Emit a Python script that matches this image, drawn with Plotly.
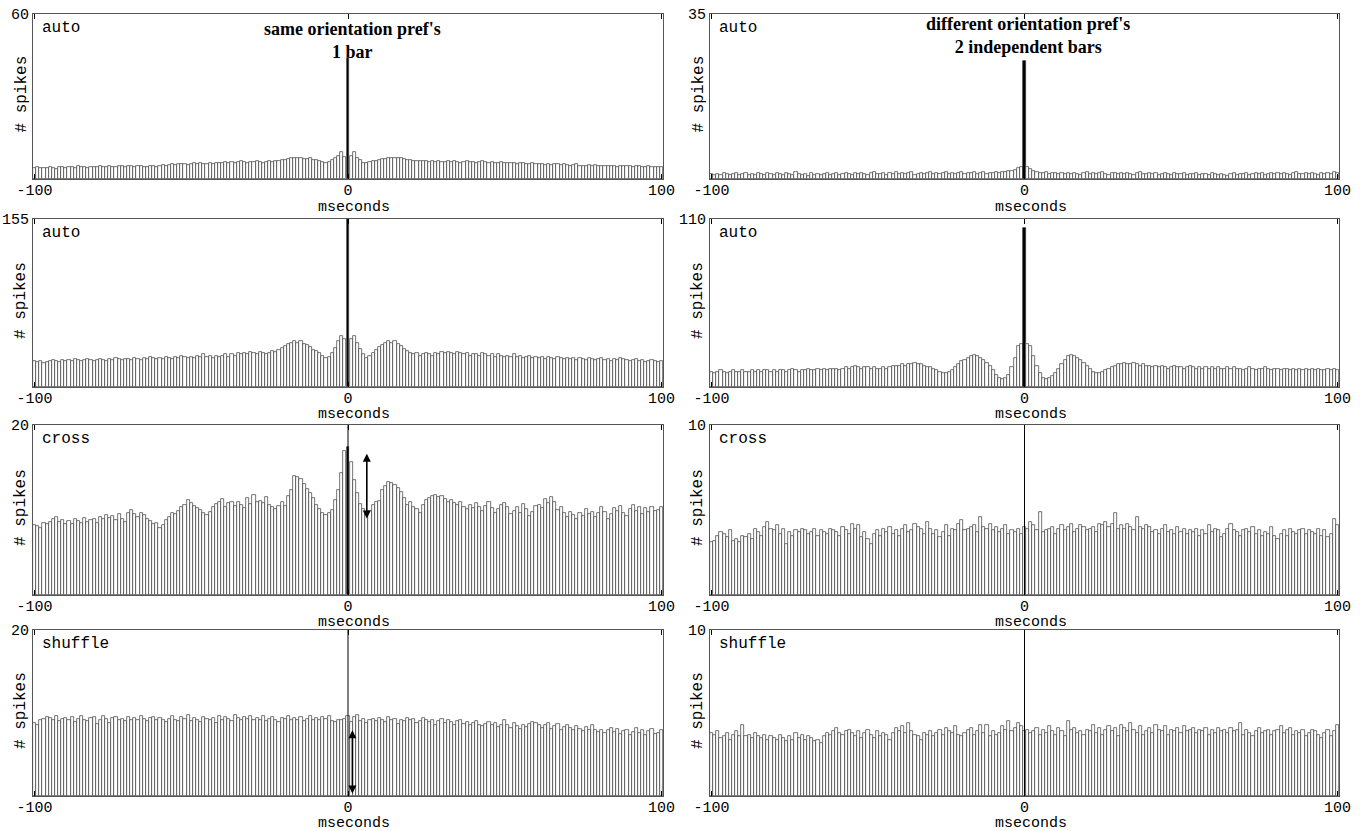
import plotly.graph_objects as go

W, H = 1371, 831
lag_ms = list(range(-100, 101))
x_ticks = [-100, 0, 100]

# ---- row 1: autocorrelograms (cell 1) ----
auto1_same = [
    4.0, 4.2, 3.9, 4.1, 4.0, 4.3, 4.1, 3.8, 4.2, 4.4,
    4.1, 4.5, 4.3, 4.0, 4.6, 4.2, 4.4, 4.1, 4.3, 4.5,
    4.2, 4.6, 4.4, 4.3, 4.7, 4.5, 4.4, 4.8, 4.6, 4.4,
    4.9, 4.7, 4.5, 4.8, 4.6, 4.4, 4.3, 4.6, 4.8, 4.5,
    4.7, 5.0, 4.8, 5.2, 5.4, 5.1, 5.5, 5.3, 5.6, 5.2,
    5.4, 5.7, 5.5, 5.8, 5.3, 5.6, 5.9, 5.5, 5.7, 6.0,
    5.8, 6.2, 6.0, 6.3, 5.9, 6.1, 6.4, 6.2, 6.0, 6.3,
    6.1, 6.4, 6.2, 6.0, 6.3, 6.5, 6.2, 6.6, 6.4, 6.8,
    7.0, 7.3, 7.6, 7.8, 7.5, 7.7, 7.4, 7.2, 7.5, 7.0,
    6.8, 6.5, 6.3, 6.0, 6.2, 7.0, 7.5, 8.2, 9.8, 8.0,
    44.0,
    8.2, 9.9, 7.6, 6.8, 6.0, 5.8, 6.1, 6.4, 6.7, 7.0,
    7.2, 7.4, 7.6, 7.5, 7.8, 7.7, 7.6, 7.3, 7.0, 6.8,
    6.7, 6.5, 6.6, 6.4, 6.5, 6.3, 6.5, 6.2, 6.4, 6.3,
    6.1, 6.4, 6.2, 6.5, 6.3, 6.0, 6.2, 6.4, 6.1, 6.3,
    6.0, 6.2, 6.4, 6.1, 5.9, 6.2, 6.0, 5.8, 6.1, 5.9,
    5.7, 6.0, 5.8, 5.5, 5.7, 5.9, 5.6, 5.4, 5.7, 5.5,
    5.3, 5.6, 5.2, 5.4, 5.0, 5.3, 5.5, 5.1, 5.4, 5.2,
    4.9, 5.1, 5.3, 4.9, 4.7, 4.9, 5.1, 4.8, 5.0, 4.7,
    4.8, 4.9, 4.6, 4.8, 4.6, 4.5, 4.8, 4.9, 4.6, 4.7,
    4.4, 4.6, 4.7, 4.3, 4.5, 4.6, 4.3, 4.5, 4.2, 4.4,
]
auto1_diff = [
    1.0, 0.8, 1.1, 0.9, 1.2, 1.0, 0.8, 1.1, 1.3, 0.9,
    1.0, 1.2, 0.8, 1.1, 0.9, 1.3, 1.0, 0.8, 1.2, 1.1,
    0.9, 1.3, 1.0, 0.8, 1.2, 1.1, 0.9, 1.4, 1.0, 0.8,
    1.1, 0.7, 1.2, 0.9, 1.0, 0.8, 1.1, 1.3, 0.9, 1.0,
    1.2, 0.9, 1.1, 1.3, 1.0, 0.8, 1.2, 1.0, 1.3, 1.1,
    0.9, 1.2, 1.4, 1.0, 1.1, 1.3, 0.9, 1.2, 1.0, 1.4,
    1.1, 1.3, 1.0, 1.2, 1.4, 0.9, 1.1, 1.3, 1.0, 1.2,
    1.4, 1.1, 1.3, 1.0, 1.2, 1.5, 1.1, 1.3, 1.0, 1.2,
    1.4, 1.1, 1.3, 1.2, 1.5, 1.0, 1.2, 1.4, 1.1, 1.3,
    1.2, 1.4, 1.3, 1.5, 1.4, 1.6, 1.8, 2.0, 2.4, 2.6,
    25.0,
    2.5, 2.1, 1.8, 1.5, 1.3, 1.2, 1.4, 1.1, 1.3, 1.2,
    1.0, 1.3, 1.1, 1.2, 1.0, 1.3, 1.1, 0.9, 1.2, 1.4,
    1.1, 1.3, 1.0, 1.2, 1.4, 1.1, 0.9, 1.2, 1.3, 1.0,
    1.2, 1.0, 1.3, 1.1, 0.9, 1.2, 1.4, 1.0, 1.1, 1.3,
    1.0, 1.2, 0.9, 1.1, 1.3, 1.0, 0.8, 1.2, 1.0, 1.1,
    1.3, 0.9, 1.1, 1.0, 1.2, 0.8, 1.0, 1.1, 0.9, 1.2,
    1.0, 0.8, 1.1, 0.9, 0.7, 1.0, 1.2, 0.9, 1.1, 1.0,
    1.2, 0.9, 1.1, 1.3, 1.0, 1.2, 0.9, 1.1, 1.3, 1.0,
    1.2, 1.0, 1.3, 1.1, 0.9, 1.2, 1.4, 1.0, 1.1, 1.3,
    1.0, 1.2, 1.1, 0.9, 1.3, 1.0, 1.2, 1.1, 1.4, 1.3,
]

# ---- row 2: autocorrelograms (cell 2) ----
auto2_same = [
    24, 23, 24, 22, 23, 24, 25, 24, 23, 25,
    24, 25, 24, 26, 25, 24, 25, 26, 25, 24,
    25, 26, 25, 24, 26, 25, 27, 26, 25, 26,
    26, 25, 27, 26, 25, 27, 26, 28, 27, 26,
    27, 26, 28, 27, 26, 28, 27, 29, 28, 27,
    28, 27, 29, 28, 30, 28, 29, 27, 29, 28,
    29, 30, 28, 30, 29, 31, 30, 31, 30, 32,
    31, 30, 32, 31, 30, 31, 33, 32, 34, 36,
    38, 40, 41, 42, 41, 42, 40, 39, 37, 34,
    33, 31, 29, 27, 28, 31, 36, 42, 47, 44,
    155,
    44, 47, 41, 35, 30, 27, 29, 31, 34, 37,
    39, 41, 42, 41, 42, 40, 38, 35, 33, 31,
    30, 31, 29, 30, 31, 30, 29, 31, 30, 32,
    31, 32, 31, 30, 32, 31, 30, 31, 29, 30,
    30, 29, 31, 30, 29, 30, 28, 30, 29, 28,
    29, 28, 30, 28, 29, 27, 28, 29, 27, 28,
    27, 28, 26, 28, 27, 26, 28, 27, 26, 27,
    26, 27, 25, 27, 26, 25, 27, 26, 25, 26,
    27, 25, 26, 24, 26, 25, 27, 26, 25, 24,
    25, 26, 24, 25, 23, 24, 25, 24, 23, 24,
]
auto2_diff = [
    10, 9, 10, 11, 10, 9, 10, 11, 10, 10,
    11, 10, 10, 11, 10, 11, 10, 11, 11, 10,
    11, 10, 11, 11, 10, 11, 12, 11, 10, 11,
    11, 12, 11, 11, 12, 11, 12, 11, 12, 12,
    12, 11, 12, 13, 12, 13, 14, 13, 12, 13,
    13, 12, 13, 12, 12, 13, 12, 13, 14, 14,
    14, 15, 14, 15, 15, 16, 15, 15, 14, 13,
    13, 12, 11, 10, 9, 9, 10, 11, 13, 15,
    17, 18, 19, 20, 21, 20, 19, 18, 16, 14,
    11, 8, 6, 5, 6, 8, 13, 19, 27, 28,
    104,
    28, 27, 20, 14, 9, 6, 5, 6, 7, 9,
    12, 15, 18, 20, 21, 20, 19, 18, 16, 14,
    12, 10, 9, 9, 10, 11, 12, 13, 14, 15,
    15, 16, 15, 15, 16, 15, 14, 15, 14, 14,
    13, 14, 13, 14, 13, 12, 13, 14, 13, 13,
    12, 13, 14, 13, 12, 13, 12, 13, 12, 13,
    12, 13, 12, 12, 13, 12, 13, 12, 12, 11,
    12, 13, 12, 11, 12, 12, 13, 12, 11, 12,
    12, 11, 12, 12, 11, 12, 11, 12, 11, 12,
    11, 12, 11, 12, 11, 11, 12, 11, 12, 11,
]

# ---- row 3: crosscorrelograms ----
cross_same = [
    8.2, 8.1, 7.9, 8.5, 8.3, 8.6, 8.9, 9.2, 8.6, 8.8,
    8.4, 8.7, 8.3, 9.0, 8.7, 8.5, 9.1, 8.6, 8.8, 9.0,
    8.5, 9.2, 8.9, 9.4, 9.1, 9.3, 8.8, 9.5, 9.0, 8.6,
    9.6, 10.0, 9.5, 9.2, 9.7, 9.4, 9.0, 8.7, 8.4, 8.5,
    7.9, 8.2, 8.8, 9.2, 9.6, 9.5, 9.9, 10.3, 10.6, 11.2,
    10.8, 10.5, 10.2, 10.0, 9.7, 9.4, 9.8, 10.3, 10.7, 11.0,
    11.3, 10.4, 10.8, 11.0, 10.5, 10.9, 10.6, 10.2, 11.4, 10.7,
    11.8, 10.9, 11.1, 10.8, 11.5, 10.6, 10.4, 10.1, 10.5, 10.9,
    10.5, 11.7, 12.3, 14.0, 13.9, 13.6, 13.1, 12.5, 12.0, 11.4,
    10.6, 10.1, 9.7, 9.4, 9.6, 10.0, 11.2, 12.4, 14.3, 16.9,
    17.4,
    15.6, 13.5, 12.0, 10.7, 10.1, 9.6, 9.9, 10.6, 10.9, 11.1,
    12.3, 12.8, 13.3, 13.2, 13.0, 12.6, 12.1, 11.4, 10.6, 10.9,
    10.3, 10.1, 9.7, 10.6, 11.2, 11.4, 11.7, 11.8, 11.5, 11.6,
    11.3, 11.0, 11.2, 10.8, 10.6, 10.9, 10.4, 10.1, 10.6, 10.2,
    10.8, 10.3, 9.9, 10.5, 10.9, 10.2, 9.7, 10.1, 10.6, 10.8,
    10.4, 9.5, 9.9, 10.3, 9.6, 10.7, 10.1, 9.3, 9.8, 10.5,
    10.6, 10.2, 11.3, 10.8, 11.5, 10.9, 10.0, 10.4, 9.6, 9.2,
    9.8, 9.4, 9.0, 9.7, 9.3, 10.1, 9.5, 9.8, 9.2, 9.6,
    10.3, 9.8, 8.9, 9.5, 10.2, 9.9, 10.5, 9.7, 9.3, 10.1,
    10.6, 9.9, 10.3, 9.5, 10.2, 9.8, 10.4, 9.9, 10.0, 10.3,
]
cross_diff = [
    3.1, 3.2, 3.5, 3.7, 3.6, 3.4, 3.8, 3.2, 3.3, 3.1,
    3.5, 3.4, 3.6, 3.3, 3.9, 3.7, 3.5, 4.0, 4.3, 3.9,
    3.8, 4.1, 3.6, 3.9, 3.0, 3.7, 3.5, 3.8, 3.7, 3.9,
    3.8, 3.6, 3.7, 3.9, 3.5, 3.8, 3.7, 3.6, 3.9, 3.8,
    3.7, 3.5, 4.0, 3.8, 3.6, 4.2, 3.9, 4.1, 3.4, 3.7,
    3.3, 3.0, 3.6, 3.8, 3.5, 3.9, 3.7, 4.0, 3.6, 3.8,
    3.5, 3.9, 4.1, 3.7, 3.8, 4.2, 4.0, 3.9, 3.6, 4.3,
    3.9, 3.6, 3.8, 3.4, 3.7, 4.1, 3.5, 3.9, 3.8, 4.2,
    4.4, 3.8, 3.9, 4.0, 4.1, 3.7, 4.6, 4.0, 3.9, 4.2,
    3.8, 4.0, 3.7, 3.9, 4.1, 3.6, 3.8, 3.7, 3.9, 3.6,
    4.0,
    3.9, 4.3, 4.1, 3.8, 4.9, 3.7, 3.8, 3.9, 4.0, 3.6,
    3.9, 4.1, 3.8, 4.0, 4.2, 3.7, 3.9, 4.1, 4.0, 3.8,
    3.9, 4.0, 3.7, 4.2, 4.1, 4.3, 4.0, 4.2, 4.8, 3.9,
    4.1, 3.9, 4.2, 4.0, 3.8, 4.6, 4.0, 3.9, 4.1, 4.0,
    3.7, 3.8, 3.6, 3.9, 4.1, 3.7, 3.8, 3.6, 4.0, 3.7,
    3.9, 3.6, 3.8, 3.7, 3.9, 3.5, 3.8, 3.6, 4.1, 3.7,
    3.9, 3.8, 3.4, 3.6, 3.9, 4.2, 3.8, 3.7, 3.5, 3.8,
    3.9, 3.7, 4.0, 3.6, 3.8, 3.5, 3.7, 3.6, 4.0, 3.5,
    3.3, 3.6, 3.8, 3.5, 3.9, 3.7, 3.6, 3.8, 3.9, 3.6,
    3.8, 3.7, 3.6, 3.9, 3.5, 3.8, 3.4, 3.6, 4.5, 4.1,
]

# ---- row 4: shuffle predictors ----
shuffle_same = [
    8.8, 8.5, 9.1, 9.3, 9.5, 9.4, 9.2, 9.6, 9.0, 9.3,
    9.4, 9.1, 9.5, 8.9, 9.3, 9.6, 9.2, 9.0, 9.4, 9.5,
    8.7, 9.2, 9.6, 9.3, 8.8, 9.4, 9.5, 9.1, 9.3, 9.0,
    9.5, 9.2, 9.4, 9.1, 9.6, 9.3, 9.0, 9.4, 9.5, 9.2,
    9.4, 9.1, 8.9, 9.3, 9.6, 9.2, 9.0, 9.5, 9.3, 9.8,
    9.0, 9.4, 9.2, 8.9, 9.5, 9.3, 9.1, 9.4, 8.8, 9.6,
    9.2, 9.5, 9.3, 9.0, 9.7, 9.4, 9.1, 9.5, 9.3, 9.6,
    9.1, 9.4, 9.2, 9.6, 9.0, 9.3, 9.5, 9.2, 8.9, 9.4,
    9.3, 9.6, 9.1, 9.4, 9.2, 9.5, 9.0, 9.3, 9.6, 9.2,
    9.4, 9.1, 9.5, 9.3, 9.6, 9.0, 8.9, 9.2, 9.1, 9.3,
    9.6,
    8.9, 9.5, 9.7, 9.0, 9.3, 8.8, 9.1, 9.3, 9.0, 9.4,
    9.2, 8.9, 9.5, 9.1, 9.3, 8.7, 9.2, 9.0, 9.4, 9.1,
    9.3, 8.8, 9.0, 9.4, 9.1, 8.9, 9.2, 8.6, 9.0, 9.3,
    8.8, 9.1, 8.9, 8.6, 9.0, 9.2, 8.7, 8.9, 8.5, 8.8,
    9.0, 8.6, 8.4, 8.7, 8.9, 8.5, 8.8, 8.3, 8.6, 9.2,
    8.5, 8.2, 8.8, 8.4, 8.1, 8.6, 8.3, 8.7, 8.9, 8.8,
    8.6, 8.2, 8.5, 8.8, 8.1, 8.4, 8.7, 8.0, 8.3, 8.6,
    8.2, 7.9, 8.4, 8.1, 7.8, 8.3, 8.0, 8.5, 7.9, 7.7,
    8.0, 7.6, 7.9, 8.2, 7.7, 8.1, 7.5, 7.8, 7.9, 7.4,
    7.7, 8.2, 7.6, 7.9, 7.4, 7.8, 8.1, 7.5, 7.6, 7.9,
]
shuffle_diff = [
    3.8, 3.7, 3.9, 3.5, 3.6, 3.8, 3.4, 3.7, 3.9, 3.6,
    4.3, 3.6, 3.7, 3.5, 3.8, 3.6, 3.5, 3.7, 3.4, 3.6,
    3.5, 3.4, 3.7, 3.5, 3.3, 3.6, 3.4, 3.8, 3.5, 3.7,
    3.4, 3.6, 3.5, 3.3, 3.4, 3.2, 3.6, 3.8, 3.7, 3.9,
    4.1, 3.8, 3.7, 3.9, 4.0, 3.8, 3.6, 3.9, 3.5, 3.8,
    4.0, 3.7, 3.5, 3.9, 3.6, 3.8, 3.7, 3.4, 3.8, 4.1,
    3.9, 4.2, 3.8, 4.4, 3.9, 3.7, 3.6, 3.4, 3.8, 3.7,
    3.9, 3.6, 3.8, 4.0, 3.7, 4.1, 3.9, 3.8, 4.2, 3.7,
    3.6, 3.8, 4.0, 4.1, 3.7, 3.9, 4.3, 3.8, 4.3, 3.6,
    3.9, 3.7, 3.8, 4.2, 4.0, 4.5, 3.9, 4.1, 4.4, 4.2,
    3.9,
    4.0, 3.8, 3.9, 4.1, 3.7, 4.0, 3.8, 4.2, 3.9, 3.7,
    4.1, 3.9, 3.6, 4.5, 4.0, 4.1, 3.8, 3.9, 3.7, 4.0,
    3.9, 4.3, 3.8, 4.1, 3.7, 4.0, 4.2, 3.9, 4.1, 3.6,
    4.3, 4.1, 3.9, 4.4, 4.0, 3.8, 4.2, 3.7, 3.9, 4.1,
    3.8, 4.3, 4.0, 3.9, 4.2, 3.7, 4.0, 3.9, 4.1, 3.8,
    4.2, 3.9, 4.0, 4.1, 3.8, 4.0, 3.9, 4.1, 3.7, 4.0,
    3.8, 4.1, 3.9, 4.0, 3.8, 4.1, 3.9, 4.0, 4.4, 3.7,
    4.0, 3.8, 3.6, 3.9, 4.1, 3.8, 3.9, 4.0, 3.7, 3.9,
    4.0, 4.2, 3.8, 4.0, 4.1, 3.7, 3.9, 3.8, 4.0, 3.6,
    3.8, 4.0, 3.9, 3.7, 3.5, 3.8, 4.0, 3.6, 3.9, 4.3,
]

panel_labels = ["auto", "auto", "auto", "auto", "cross", "cross", "shuffle", "shuffle"]
y_max = [60, 35, 155, 110, 20, 10, 20, 10]
series = [auto1_same, auto1_diff, auto2_same, auto2_diff,
          cross_same, cross_diff, shuffle_same, shuffle_diff]
headers = [["same orientation pref's", "1 bar"],
           ["different orientation pref's", "2 independent bars"]]

for s in series:
    assert len(s) == len(lag_ms), len(s)

# ---- layout geometry (screen pixels) ----
col_x = [(33, 663), (710, 1339)]
row_y = [(14, 179), (219, 387), (425, 595), (630, 796)]
xtitle_y = [207, 414, 622, 823]

MONO = "Liberation Mono, Courier New, monospace"
SERIF = "Liberation Serif, DejaVu Serif, serif"

fig = go.Figure()
layout = dict(
    width=W, height=H, autosize=False,
    margin=dict(l=0, r=0, t=0, b=0, autoexpand=False),
    paper_bgcolor="white", plot_bgcolor="white",
    showlegend=False, bargap=0,
    font=dict(family=MONO, size=15, color="black"),
)
annotations = []
shapes = []

def px_x(p):
    return p / W

def px_y(p):
    return 1 - p / H

for k in range(8):
    r, c = divmod(k, 2)
    idx = "" if k == 0 else str(k + 1)
    xa, ya = "x" + idx, "y" + idx
    x0, x1 = col_x[c]
    y0, y1 = row_y[r]
    vals = series[k]
    center_dark = k in (0, 1, 2, 3, 4)
    fills = ["black" if (center_dark and lag == 0) else "white" for lag in lag_ms]
    widths = [0.7 if (center_dark and lag == 0) else 1.0 for lag in lag_ms]
    fig.add_trace(go.Bar(
        x=lag_ms, y=vals, width=widths, xaxis=xa, yaxis=ya,
        marker=dict(color=fills, line=dict(color="#3a3a3a", width=0.7)),
        hoverinfo="x+y",
    ))
    layout["xaxis" + idx] = dict(
        domain=[px_x(x0), px_x(x1)], anchor=ya, range=[-100.5, 100.5],
        automargin=False, ticklabelstandoff=-3,
        tickvals=x_ticks, ticktext=[str(v) for v in x_ticks],
        ticks="inside", ticklen=5, tickcolor="black", mirror="allticks",
        showline=True, linecolor="#555", linewidth=1, showgrid=False, zeroline=False,
        tickfont=dict(family=MONO, size=15, color="black"),
    )
    layout["yaxis" + idx] = dict(
        domain=[px_y(y1), px_y(y0)], anchor=xa, range=[0, y_max[k]],
        automargin=False,
        tickvals=[y_max[k]], ticks="", showline=True, mirror=True,
        linecolor="#555", linewidth=1, showgrid=False, zeroline=False,
        tickfont=dict(family=MONO, size=15, color="black"),
    )
    # panel label
    annotations.append(dict(
        xref="paper", yref="paper", x=px_x(x0 + 7), y=px_y(y0 + 14),
        xanchor="left", yanchor="middle", showarrow=False,
        text=panel_labels[k], font=dict(family=MONO, size=16, color="black"),
    ))
    # y title
    annotations.append(dict(
        xref="paper", yref="paper", x=px_x(x0 - 12), y=px_y((y0 + y1) / 2 - 2),
        xanchor="center", yanchor="middle", showarrow=False, textangle=-90,
        text="# spikes", font=dict(family=MONO, size=16, color="black"),
    ))
    # x title
    annotations.append(dict(
        xref=xa, yref="paper", x=2, y=px_y(xtitle_y[r]),
        xanchor="center", yanchor="middle", showarrow=False,
        text="mseconds", font=dict(family=MONO, size=15, color="black"),
    ))
    if r >= 2:
        shapes.append(dict(type="line", xref=xa, yref=ya, x0=0, x1=0, y0=0, y1=y_max[k],
                           line=dict(color="black", width=1)))

# headers
annotations.append(dict(
    xref="paper", yref="paper", x=px_x(352), y=px_y(41), xanchor="center", yanchor="middle",
    showarrow=False, align="center",
    text="<b>" + headers[0][0] + "</b><br><b>" + headers[0][1] + "</b>",
    font=dict(family=SERIF, size=18, color="black"),
))
annotations.append(dict(
    xref="paper", yref="paper", x=px_x(1028), y=px_y(36), xanchor="center", yanchor="middle",
    showarrow=False, align="center",
    text="<b>" + headers[1][0] + "</b><br><b>" + headers[1][1] + "</b>",
    font=dict(family=SERIF, size=18, color="black"),
))

# double-headed arrows
annotations.append(dict(
    x=6, y=9.0, ax=6, ay=16.8, xref="x5", yref="y5", axref="x5", ayref="y5",
    text="", showarrow=True, arrowhead=2, arrowside="end+start",
    arrowwidth=1.6, arrowsize=1, arrowcolor="black",
))
annotations.append(dict(
    x=1.4, y=0.3, ax=1.4, ay=8.1, xref="x7", yref="y7", axref="x7", ayref="y7",
    text="", showarrow=True, arrowhead=2, arrowside="end+start",
    arrowwidth=1.6, arrowsize=1, arrowcolor="black",
))

layout["annotations"] = annotations
layout["shapes"] = shapes
fig.update_layout(**layout)
fig.write_html("out.html", config={"displayModeBar": False},
               post_script="document.body.style.margin='0';")
